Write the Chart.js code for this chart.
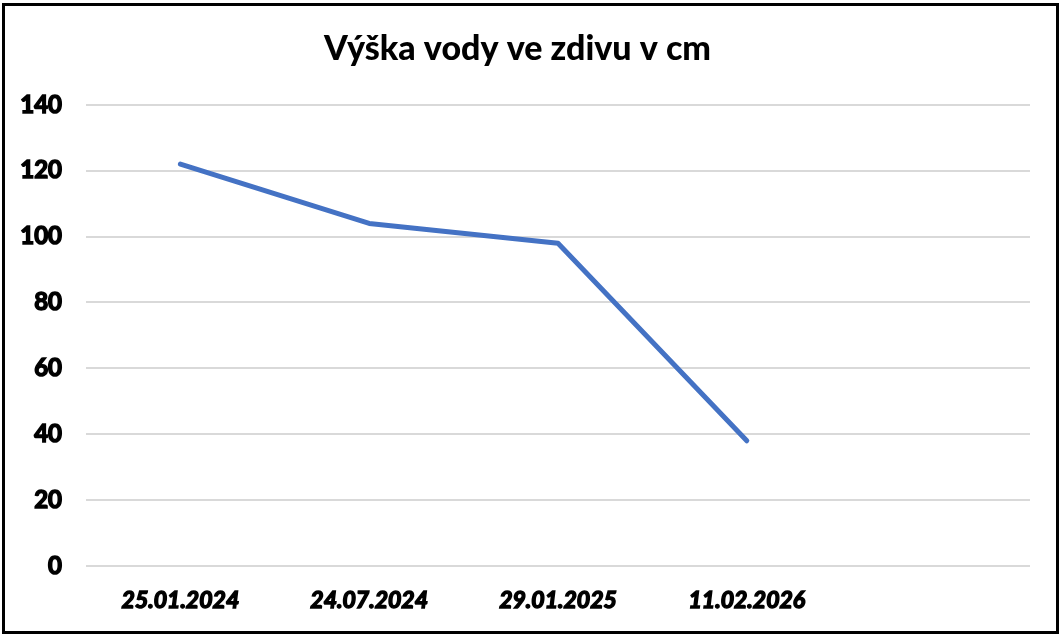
<!DOCTYPE html>
<html lang="cs">
<head>
<meta charset="utf-8">
<title>Výška vody ve zdivu v cm</title>
<script src="https://cdn.jsdelivr.net/npm/chart.js@4.4.1/dist/chart.umd.min.js"></script>
<style>
  html, body { margin: 0; padding: 0; background: #fff; }
  .frame {
    position: absolute;
    left: 2px; top: 3px;
    width: 1057px; height: 631px;
    box-sizing: border-box;
    border: 3px solid #000;
  }
  .frame canvas { display: block; }
</style>
</head>
<body>
<div class="frame">
  <canvas id="chart" width="1051" height="625"></canvas>
</div>
<script>
// --- Data ---
const dates = ['25.01.2024', '24.07.2024', '29.01.2025', '11.02.2026', ''];  // last slot is empty in the original
const waterHeight = [122, 104, 98, 38, null];
const yMin = 0;
const yMax = 140;
const yStep = 20;

const titleText = 'Výška vody ve zdivu v cm';
const fontFamily = 'Lato, "Open Sans", "Noto Sans", sans-serif';

const ctx = document.getElementById('chart').getContext('2d');

new Chart(ctx, {
  type: 'line',
  data: {
    labels: dates,
    datasets: [{
      label: 'Výška vody',
      data: waterHeight,
      borderColor: '#4472C4',
      borderWidth: 5,
      borderCapStyle: 'round',
      borderJoinStyle: 'round',
      pointRadius: 0,
      tension: 0,
      fill: false
    }]
  },
  options: {
    responsive: false,
    animation: false,
    layout: { padding: { top: 0, right: 26, bottom: 0, left: 0 } },
    plugins: {
      legend: { display: false },
      tooltip: { enabled: false },
      title: {
        display: true,
        text: titleText,
        color: '#000',
        font: { family: fontFamily, size: 34, weight: 900, lineHeight: 1.2 },
        padding: { top: 23, bottom: 35 }
      }
    },
    scales: {
      x: {
        offset: true,
        grid: { display: false, drawTicks: false },
        border: { display: false },
        ticks: {
          color: '#000',
          padding: 21,
          maxRotation: 0,
          autoSkip: false,
          textStrokeColor: '#000',
          textStrokeWidth: 1.5,
          font: { family: fontFamily, size: 23, weight: 'bold', style: 'italic' }
        },
        afterFit: (scale) => { scale.height = 65; }
      },
      y: {
        min: yMin,
        max: yMax,
        grid: { color: '#d9d9d9', lineWidth: 2, drawTicks: false },
        border: { display: false },
        ticks: {
          stepSize: yStep,
          color: '#000',
          padding: 24,
          textStrokeColor: '#000',
          textStrokeWidth: 1.5,
          font: { family: fontFamily, size: 24, weight: 'bold' }
        },
        afterFit: (scale) => { scale.width = 81; }
      }
    }
  }
});
</script>
</body>
</html>
